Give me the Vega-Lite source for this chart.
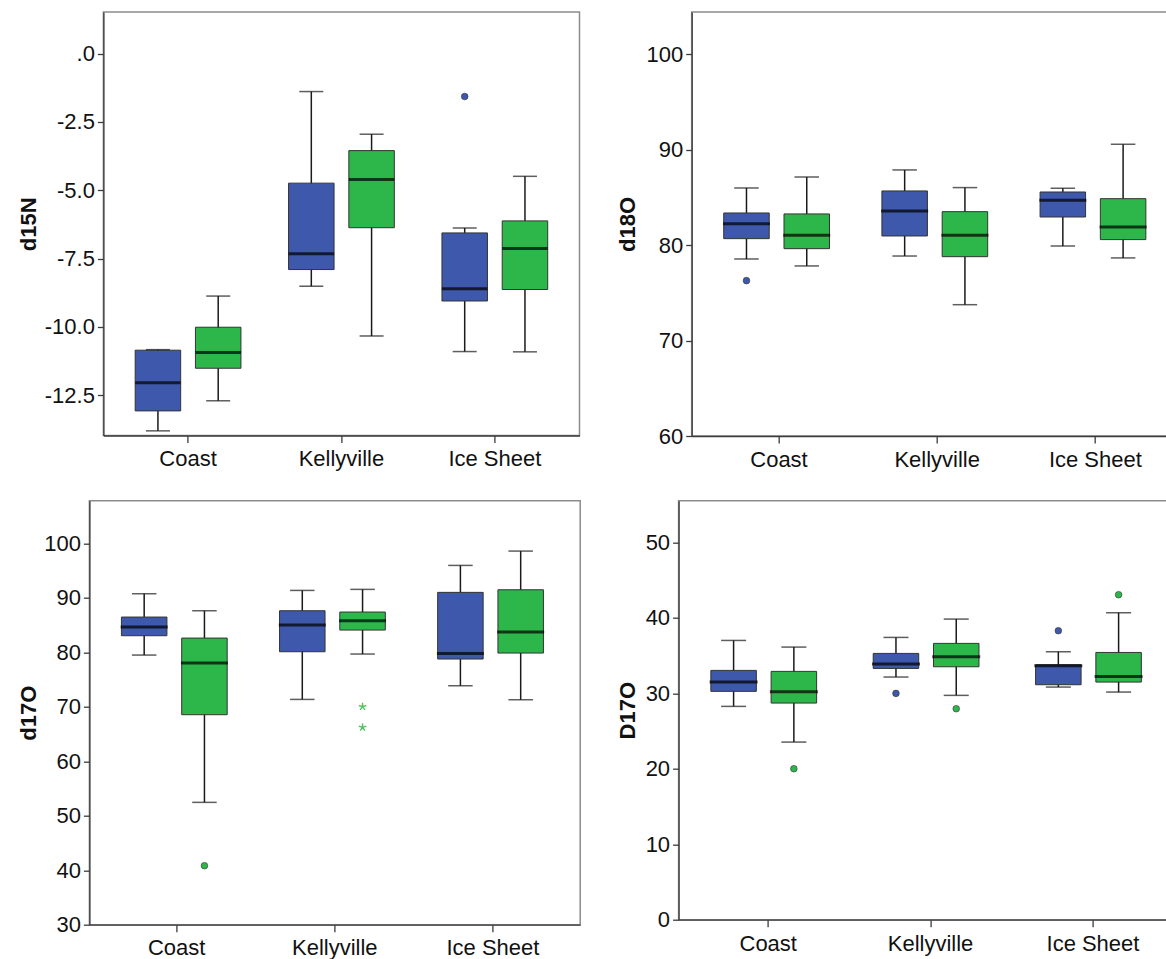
{
  "$schema": "https://vega.github.io/schema/vega-lite/v6.json",
  "background": "white",
  "padding": {"left": 16.4, "top": 11, "right": 0, "bottom": 0},
  "datasets": {
    "boxes": [
      {"panel": "d15N", "site": "Coast", "grp": "S1", "lower": -13.80, "q1": -13.07, "median": -12.04, "q3": -10.85, "upper": -10.83},
      {"panel": "d15N", "site": "Coast", "grp": "S2", "lower": -12.70, "q1": -11.51, "median": -10.93, "q3": -10.01, "upper": -8.87},
      {"panel": "d15N", "site": "Kellyville", "grp": "S1", "lower": -8.51, "q1": -7.90, "median": -7.32, "q3": -4.74, "upper": -1.39},
      {"panel": "d15N", "site": "Kellyville", "grp": "S2", "lower": -10.33, "q1": -6.37, "median": -4.61, "q3": -3.55, "upper": -2.95},
      {"panel": "d15N", "site": "Ice Sheet", "grp": "S1", "lower": -10.90, "q1": -9.05, "median": -8.60, "q3": -6.56, "upper": -6.38},
      {"panel": "d15N", "site": "Ice Sheet", "grp": "S2", "lower": -10.91, "q1": -8.63, "median": -7.13, "q3": -6.12, "upper": -4.49},
      {"panel": "d18O", "site": "Coast", "grp": "S1", "lower": 78.55, "q1": 80.68, "median": 82.25, "q3": 83.37, "upper": 85.99},
      {"panel": "d18O", "site": "Coast", "grp": "S2", "lower": 77.82, "q1": 79.63, "median": 81.03, "q3": 83.27, "upper": 87.14},
      {"panel": "d18O", "site": "Kellyville", "grp": "S1", "lower": 78.86, "q1": 80.96, "median": 83.58, "q3": 85.68, "upper": 87.88},
      {"panel": "d18O", "site": "Kellyville", "grp": "S2", "lower": 73.76, "q1": 78.79, "median": 81.03, "q3": 83.51, "upper": 86.03},
      {"panel": "d18O", "site": "Ice Sheet", "grp": "S1", "lower": 79.91, "q1": 82.95, "median": 84.70, "q3": 85.57, "upper": 85.96},
      {"panel": "d18O", "site": "Ice Sheet", "grp": "S2", "lower": 78.66, "q1": 80.58, "median": 81.90, "q3": 84.87, "upper": 90.57},
      {"panel": "d17O", "site": "Coast", "grp": "S1", "lower": 79.50, "q1": 83.05, "median": 84.64, "q3": 86.48, "upper": 90.76},
      {"panel": "d17O", "site": "Coast", "grp": "S2", "lower": 52.46, "q1": 68.55, "median": 78.03, "q3": 82.62, "upper": 87.64},
      {"panel": "d17O", "site": "Kellyville", "grp": "S1", "lower": 71.36, "q1": 80.11, "median": 85.01, "q3": 87.64, "upper": 91.37},
      {"panel": "d17O", "site": "Kellyville", "grp": "S2", "lower": 79.69, "q1": 84.09, "median": 85.80, "q3": 87.40, "upper": 91.56},
      {"panel": "d17O", "site": "Ice Sheet", "grp": "S1", "lower": 73.87, "q1": 78.77, "median": 79.81, "q3": 91.01, "upper": 95.96},
      {"panel": "d17O", "site": "Ice Sheet", "grp": "S2", "lower": 71.30, "q1": 79.87, "median": 83.72, "q3": 91.49, "upper": 98.59},
      {"panel": "D17O", "site": "Coast", "grp": "S1", "lower": 28.27, "q1": 30.26, "median": 31.49, "q3": 33.04, "upper": 37.01},
      {"panel": "D17O", "site": "Coast", "grp": "S2", "lower": 23.54, "q1": 28.71, "median": 30.21, "q3": 32.91, "upper": 36.13},
      {"panel": "D17O", "site": "Kellyville", "grp": "S1", "lower": 32.16, "q1": 33.30, "median": 33.88, "q3": 35.29, "upper": 37.41},
      {"panel": "D17O", "site": "Kellyville", "grp": "S2", "lower": 29.73, "q1": 33.52, "median": 34.85, "q3": 36.62, "upper": 39.84},
      {"panel": "D17O", "site": "Ice Sheet", "grp": "S1", "lower": 30.83, "q1": 31.14, "median": 33.66, "q3": 33.79, "upper": 35.51},
      {"panel": "D17O", "site": "Ice Sheet", "grp": "S2", "lower": 30.17, "q1": 31.49, "median": 32.24, "q3": 35.42, "upper": 40.68}
    ],
    "outliers": [
      {"panel": "d15N", "site": "Ice Sheet", "grp": "S1", "value": -1.57, "kind": "outlier"},
      {"panel": "d18O", "site": "Coast", "grp": "S1", "value": 76.28, "kind": "outlier"},
      {"panel": "d17O", "site": "Coast", "grp": "S2", "value": 40.83, "kind": "outlier"},
      {"panel": "d17O", "site": "Kellyville", "grp": "S2", "value": 70.02, "kind": "extreme"},
      {"panel": "d17O", "site": "Kellyville", "grp": "S2", "value": 66.22, "kind": "extreme"},
      {"panel": "D17O", "site": "Coast", "grp": "S2", "value": 20.01, "kind": "outlier"},
      {"panel": "D17O", "site": "Kellyville", "grp": "S1", "value": 29.99, "kind": "outlier"},
      {"panel": "D17O", "site": "Kellyville", "grp": "S2", "value": 27.96, "kind": "outlier"},
      {"panel": "D17O", "site": "Ice Sheet", "grp": "S1", "value": 38.30, "kind": "outlier"},
      {"panel": "D17O", "site": "Ice Sheet", "grp": "S2", "value": 43.07, "kind": "outlier"}
    ]
  },
  "spacing": 27.7,
  "vconcat": [
    {
      "bounds": "flush",
      "spacing": 0,
      "hconcat": [
        {"width": 13.9, "height": 10, "data": {"values": []}, "mark": "point", "view": {"stroke": null}},
        {
          "bounds": "flush",
          "spacing": 111.3,
          "hconcat": [
            {
              "width": 476.1, "height": 423.5,
              "data": {"name": "boxes"},
              "transform": [{"filter": "datum.panel == 'd15N'"}],
              "encoding": {
                "x": {"field": "site", "type": "nominal", "scale": {"domain": ["Coast", "Kellyville", "Ice Sheet"], "paddingInner": 0, "paddingOuter": 0.052}},
                "xOffset": {"field": "grp", "type": "nominal", "scale": {"domain": ["S1", "S2"], "paddingInner": 0.245, "paddingOuter": 0.395}}
              },
              "layer": [
                {"mark": {"type": "rule", "color": "#1a1a1a", "strokeWidth": 1.5},
                 "encoding": {"y": {"field": "lower", "type": "quantitative", "title": "d15N",
                    "scale": {"domain": [-13.97, 1.52], "nice": false, "zero": false},
                    "axis": {"values": [0, -2.5, -5, -7.5, -10, -12.5], "labelExpr": "datum.value == 0 ? '.0' : (datum.value < 0 ? '-' : '') + format(abs(datum.value), '.1f')", "titleX": -63, "titleY": 211.75}},
                  "y2": {"field": "upper"}}},
                {"mark": {"type": "bar", "stroke": "#333333", "strokeWidth": 1},
                 "encoding": {"y": {"field": "q1", "type": "quantitative", "title": "d15N"}, "y2": {"field": "q3"},
                   "color": {"field": "grp", "type": "nominal", "scale": {"domain": ["S1", "S2"], "range": ["#3E58AB", "#2DB64A"]}, "legend": null}}},
                {"mark": {"type": "tick", "color": "#000000", "thickness": 3, "size": 45.5},
                 "encoding": {"y": {"field": "median", "type": "quantitative", "title": "d15N"}}},
                {"mark": {"type": "tick", "color": "#1a1a1a", "thickness": 1.5, "size": 24},
                 "encoding": {"y": {"field": "lower", "type": "quantitative", "title": "d15N"}}},
                {"mark": {"type": "tick", "color": "#1a1a1a", "thickness": 1.5, "size": 24},
                 "encoding": {"y": {"field": "upper", "type": "quantitative", "title": "d15N"}}},
                {"data": {"name": "outliers"},
                 "transform": [{"filter": "datum.panel == 'd15N' && datum.kind == 'outlier'"}],
                 "mark": {"type": "point", "filled": true, "size": 44, "stroke": "#333333", "strokeWidth": 0.6, "opacity": 1},
                 "encoding": {"y": {"field": "value", "type": "quantitative", "title": "d15N"},
                   "color": {"field": "grp", "type": "nominal", "scale": {"domain": ["S1", "S2"], "range": ["#3E58AB", "#2DB64A"]}, "legend": null}}}
              ]
            },
            {
              "width": 491, "height": 424,
              "data": {"name": "boxes"},
              "transform": [{"filter": "datum.panel == 'd18O'"}],
              "encoding": {
                "x": {"field": "site", "type": "nominal", "scale": {"domain": ["Coast", "Kellyville", "Ice Sheet"], "paddingInner": 0, "paddingOuter": 0.052}},
                "xOffset": {"field": "grp", "type": "nominal", "scale": {"domain": ["S1", "S2"], "paddingInner": 0.245, "paddingOuter": 0.395}}
              },
              "layer": [
                {"mark": {"type": "rule", "color": "#1a1a1a", "strokeWidth": 1.5},
                 "encoding": {"y": {"field": "lower", "type": "quantitative", "title": "d18O",
                    "scale": {"domain": [60, 104.43], "nice": false, "zero": false},
                    "axis": {"values": [60, 70, 80, 90, 100], "format": "d", "titleX": -52, "titleY": 212}},
                  "y2": {"field": "upper"}}},
                {"mark": {"type": "bar", "stroke": "#333333", "strokeWidth": 1},
                 "encoding": {"y": {"field": "q1", "type": "quantitative", "title": "d18O"}, "y2": {"field": "q3"},
                   "color": {"field": "grp", "type": "nominal", "scale": {"domain": ["S1", "S2"], "range": ["#3E58AB", "#2DB64A"]}, "legend": null}}},
                {"mark": {"type": "tick", "color": "#000000", "thickness": 3, "size": 47}, "encoding": {"y": {"field": "median", "type": "quantitative", "title": "d18O"}}},
                {"mark": {"type": "tick", "color": "#1a1a1a", "thickness": 1.5, "size": 24.5}, "encoding": {"y": {"field": "lower", "type": "quantitative", "title": "d18O"}}},
                {"mark": {"type": "tick", "color": "#1a1a1a", "thickness": 1.5, "size": 24.5}, "encoding": {"y": {"field": "upper", "type": "quantitative", "title": "d18O"}}},
                {"data": {"name": "outliers"},
                 "transform": [{"filter": "datum.panel == 'd18O' && datum.kind == 'outlier'"}],
                 "mark": {"type": "point", "filled": true, "size": 44, "stroke": "#333333", "strokeWidth": 0.6, "opacity": 1},
                 "encoding": {"y": {"field": "value", "type": "quantitative", "title": "d18O"},
                   "color": {"field": "grp", "type": "nominal", "scale": {"domain": ["S1", "S2"], "range": ["#3E58AB", "#2DB64A"]}, "legend": null}}}
              ]
            }
          ]
        }
      ]
    },
    {
      "bounds": "flush",
      "spacing": 98.2,
      "hconcat": [
        {
          "width": 490.8, "height": 424,
          "data": {"name": "boxes"},
          "transform": [{"filter": "datum.panel == 'd17O'"}],
          "encoding": {
            "x": {"field": "site", "type": "nominal", "scale": {"domain": ["Coast", "Kellyville", "Ice Sheet"], "paddingInner": 0, "paddingOuter": 0.052},
              "axis": {"labelPadding": 6}},
            "xOffset": {"field": "grp", "type": "nominal", "scale": {"domain": ["S1", "S2"], "paddingInner": 0.245, "paddingOuter": 0.395}}
          },
          "layer": [
            {"mark": {"type": "rule", "color": "#1a1a1a", "strokeWidth": 1.5},
             "encoding": {"y": {"field": "lower", "type": "quantitative", "title": "d17O",
                "scale": {"domain": [30, 107.84], "nice": false, "zero": false},
                "axis": {"values": [30, 40, 50, 60, 70, 80, 90, 100], "format": "d", "titleX": -49.1, "titleY": 212}},
              "y2": {"field": "upper"}}},
            {"mark": {"type": "bar", "stroke": "#333333", "strokeWidth": 1},
             "encoding": {"y": {"field": "q1", "type": "quantitative", "title": "d17O"}, "y2": {"field": "q3"},
               "color": {"field": "grp", "type": "nominal", "scale": {"domain": ["S1", "S2"], "range": ["#3E58AB", "#2DB64A"]}, "legend": null}}},
            {"mark": {"type": "tick", "color": "#000000", "thickness": 3, "size": 47}, "encoding": {"y": {"field": "median", "type": "quantitative", "title": "d17O"}}},
            {"mark": {"type": "tick", "color": "#1a1a1a", "thickness": 1.5, "size": 24.5}, "encoding": {"y": {"field": "lower", "type": "quantitative", "title": "d17O"}}},
            {"mark": {"type": "tick", "color": "#1a1a1a", "thickness": 1.5, "size": 24.5}, "encoding": {"y": {"field": "upper", "type": "quantitative", "title": "d17O"}}},
            {"data": {"name": "outliers"},
             "transform": [{"filter": "datum.panel == 'd17O' && datum.kind == 'outlier'"}],
             "mark": {"type": "point", "filled": true, "size": 44, "stroke": "#333333", "strokeWidth": 0.6, "opacity": 1},
             "encoding": {"y": {"field": "value", "type": "quantitative", "title": "d17O"},
               "color": {"field": "grp", "type": "nominal", "scale": {"domain": ["S1", "S2"], "range": ["#3E58AB", "#2DB64A"]}, "legend": null}}},
            {"data": {"name": "outliers"},
             "transform": [{"filter": "datum.panel == 'd17O' && datum.kind == 'extreme'"}],
             "mark": {"type": "point", "filled": false, "size": 64, "stroke": "#4CC35E", "strokeWidth": 1.4, "opacity": 1,
               "shape": "M0,0L0,-1M0,0L0.95,-0.31M0,0L0.59,0.81M0,0L-0.59,0.81M0,0L-0.95,-0.31"},
             "encoding": {"y": {"field": "value", "type": "quantitative", "title": "d17O"}}}
          ]
        },
        {
          "width": 504, "height": 419,
          "data": {"name": "boxes"},
          "transform": [{"filter": "datum.panel == 'D17O'"}],
          "encoding": {
            "x": {"field": "site", "type": "nominal", "scale": {"domain": ["Coast", "Kellyville", "Ice Sheet"], "paddingInner": 0, "paddingOuter": 0.052}},
            "xOffset": {"field": "grp", "type": "nominal", "scale": {"domain": ["S1", "S2"], "paddingInner": 0.245, "paddingOuter": 0.395}}
          },
          "layer": [
            {"mark": {"type": "rule", "color": "#1a1a1a", "strokeWidth": 1.5},
             "encoding": {"y": {"field": "lower", "type": "quantitative", "title": "D17O",
                "scale": {"domain": [0, 55.53], "nice": false, "zero": false},
                "axis": {"values": [0, 10, 20, 30, 40, 50], "format": "d", "titleX": -38.8, "titleY": 209.5}},
              "y2": {"field": "upper"}}},
            {"mark": {"type": "bar", "stroke": "#333333", "strokeWidth": 1},
             "encoding": {"y": {"field": "q1", "type": "quantitative", "title": "D17O"}, "y2": {"field": "q3"},
               "color": {"field": "grp", "type": "nominal", "scale": {"domain": ["S1", "S2"], "range": ["#3E58AB", "#2DB64A"]}, "legend": null}}},
            {"mark": {"type": "tick", "color": "#000000", "thickness": 3, "size": 48}, "encoding": {"y": {"field": "median", "type": "quantitative", "title": "D17O"}}},
            {"mark": {"type": "tick", "color": "#1a1a1a", "thickness": 1.5, "size": 25}, "encoding": {"y": {"field": "lower", "type": "quantitative", "title": "D17O"}}},
            {"mark": {"type": "tick", "color": "#1a1a1a", "thickness": 1.5, "size": 25}, "encoding": {"y": {"field": "upper", "type": "quantitative", "title": "D17O"}}},
            {"data": {"name": "outliers"},
             "transform": [{"filter": "datum.panel == 'D17O' && datum.kind == 'outlier'"}],
             "mark": {"type": "point", "filled": true, "size": 44, "stroke": "#333333", "strokeWidth": 0.6, "opacity": 1},
             "encoding": {"y": {"field": "value", "type": "quantitative", "title": "D17O"},
               "color": {"field": "grp", "type": "nominal", "scale": {"domain": ["S1", "S2"], "range": ["#3E58AB", "#2DB64A"]}, "legend": null}}}
          ]
        }
      ]
    }
  ],
  "config": {
    "view": {"stroke": "#8c8c8c", "strokeWidth": 1.5},
    "axis": {
      "labelFont": "Liberation Sans", "labelFontSize": 22, "labelColor": "#111111",
      "titleFont": "Liberation Sans", "titleFontSize": 22, "titleFontWeight": "bold", "titleColor": "#111111",
      "domainColor": "#3c3c3c", "domainWidth": 1.3, "tickColor": "#3c3c3c", "tickWidth": 1.3, "grid": false
    },
    "axisX": {"tickSize": 7, "labelPadding": 6.4, "labelAngle": 0, "title": null, "labelFlush": false, "labelOverlap": false},
    "axisY": {"tickSize": 6, "labelPadding": 3, "titleAngle": 270, "titleBaseline": "bottom", "titleAlign": "center", "labelOverlap": false}
  }
}
